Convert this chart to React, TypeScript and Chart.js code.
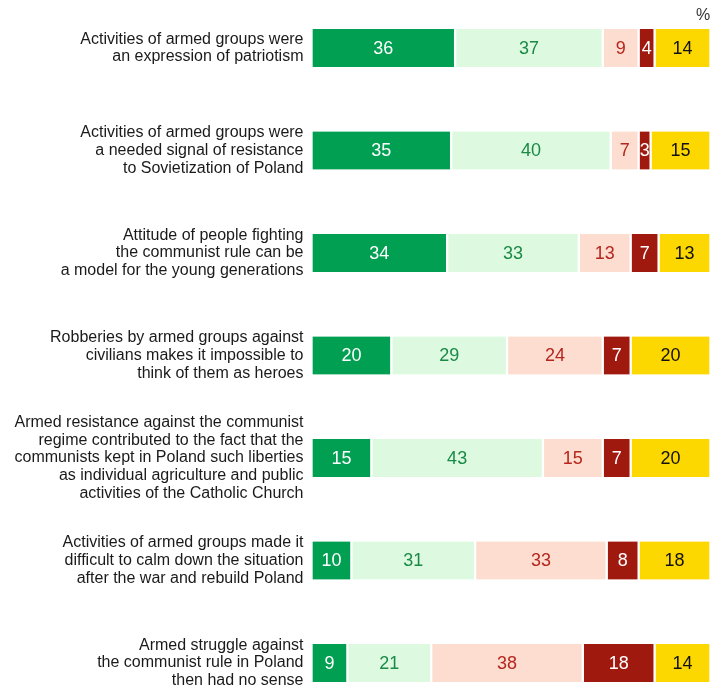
import React, { useEffect, useRef } from "react";
import { Chart, registerables } from "chart.js";

Chart.register(...registerables);

const categories: string[][] = [
  ["Activities of armed groups were", "an expression of patriotism"],
  ["Activities of armed groups were", "a needed signal of resistance", "to Sovietization of Poland"],
  ["Attitude of people fighting", "the communist rule can be", "a model for the young generations"],
  ["Robberies by armed groups against", "civilians makes it impossible to", "think of them as heroes"],
  [
    "Armed resistance against the communist",
    "regime contributed to the fact that the",
    "communists kept in Poland such liberties",
    "as individual agriculture and public",
    "activities of the Catholic Church",
  ],
  ["Activities of armed groups made it", "difficult to calm down the situation", "after the war and rebuild Poland"],
  ["Armed struggle against", "the communist rule in Poland", "then had no sense"],
];

const seriesNames = ["Definitely yes", "Rather yes", "Rather no", "Definitely no", "Hard to say"];
const definitelyYes = [36, 35, 34, 20, 15, 10, 9];
const ratherYes = [37, 40, 33, 29, 43, 31, 21];
const ratherNo = [9, 7, 13, 24, 15, 33, 38];
const definitelyNo = [4, 3, 7, 7, 7, 8, 18];
const hardToSay = [14, 15, 13, 20, 20, 18, 14];

const fillColors = ["#009f52", "#ddf9e0", "#fdddcf", "#a0190f", "#fdd700"];
const textColors = ["#ffffff", "#1b8a47", "#b5261e", "#ffffff", "#111111"];

const FONT = "'Liberation Sans', Arial, sans-serif";

export default function App() {
  const canvasRef = useRef<HTMLCanvasElement | null>(null);

  useEffect(() => {
    document.body.style.margin = "0";
    const canvas = canvasRef.current;
    if (!canvas) return;

    const valuePlugin = {
      id: "valueLabels",
      afterDatasetsDraw(chart: any) {
        const ctx = chart.ctx;
        ctx.save();
        ctx.font = `18px ${FONT}`;
        ctx.textAlign = "center";
        ctx.textBaseline = "middle";
        chart.data.datasets.forEach((ds: any, di: number) => {
          const meta = chart.getDatasetMeta(di);
          meta.data.forEach((el: any, i: number) => {
            const v = ds.data[i];
            const cx = (el.x + el.base) / 2;
            ctx.fillStyle = textColors[di];
            ctx.fillText(String(v), cx, el.y + 1);
          });
        });
        ctx.fillStyle = "#333333";
        ctx.font = `16px ${FONT}`;
        ctx.fillText("%", 703, 16);
        ctx.restore();
      },
    };

    const allSeries = [definitelyYes, ratherYes, ratherNo, definitelyNo, hardToSay];

    const chart = new Chart(canvas, {
      type: "bar",
      data: {
        labels: categories,
        datasets: allSeries.map((d, i) => ({
          label: seriesNames[i],
          data: d,
          backgroundColor: fillColors[i],
          borderColor: "#ffffff",
          borderWidth: { left: 1.5, right: 1.5, top: 0, bottom: 0 },
          borderSkipped: false,
          barThickness: 38,
          clip: false,
        })),
      },
      options: {
        indexAxis: "y",
        responsive: false,
        animation: false,
        layout: { padding: { top: 48, bottom: 23, left: 0, right: 11.5 } },
        plugins: {
          legend: { display: false },
          tooltip: { enabled: false },
          title: { display: false },
        },
        scales: {
          x: {
            stacked: true,
            min: 0,
            max: 100,
            display: false,
          },
          y: {
            stacked: true,
            offset: false,
            grid: { display: false, drawTicks: false },
            border: { display: false },
            ticks: {
              padding: 8,
              color: "#1a1a1a",
              font: { family: FONT, size: 16, lineHeight: 1.1 },
              autoSkip: false,
            },
            afterFit: (scale: any) => {
              scale.width = 311.5;
              scale.paddingTop = 0;
              scale.paddingBottom = 0;
            },
          },
        },
      },
      plugins: [valuePlugin],
    } as any);

    return () => chart.destroy();
  }, []);

  return (
    <div style={{ width: 722, height: 686, background: "#fff" }}>
      <canvas ref={canvasRef} width={722} height={686} style={{ display: "block" }} />
    </div>
  );
}
